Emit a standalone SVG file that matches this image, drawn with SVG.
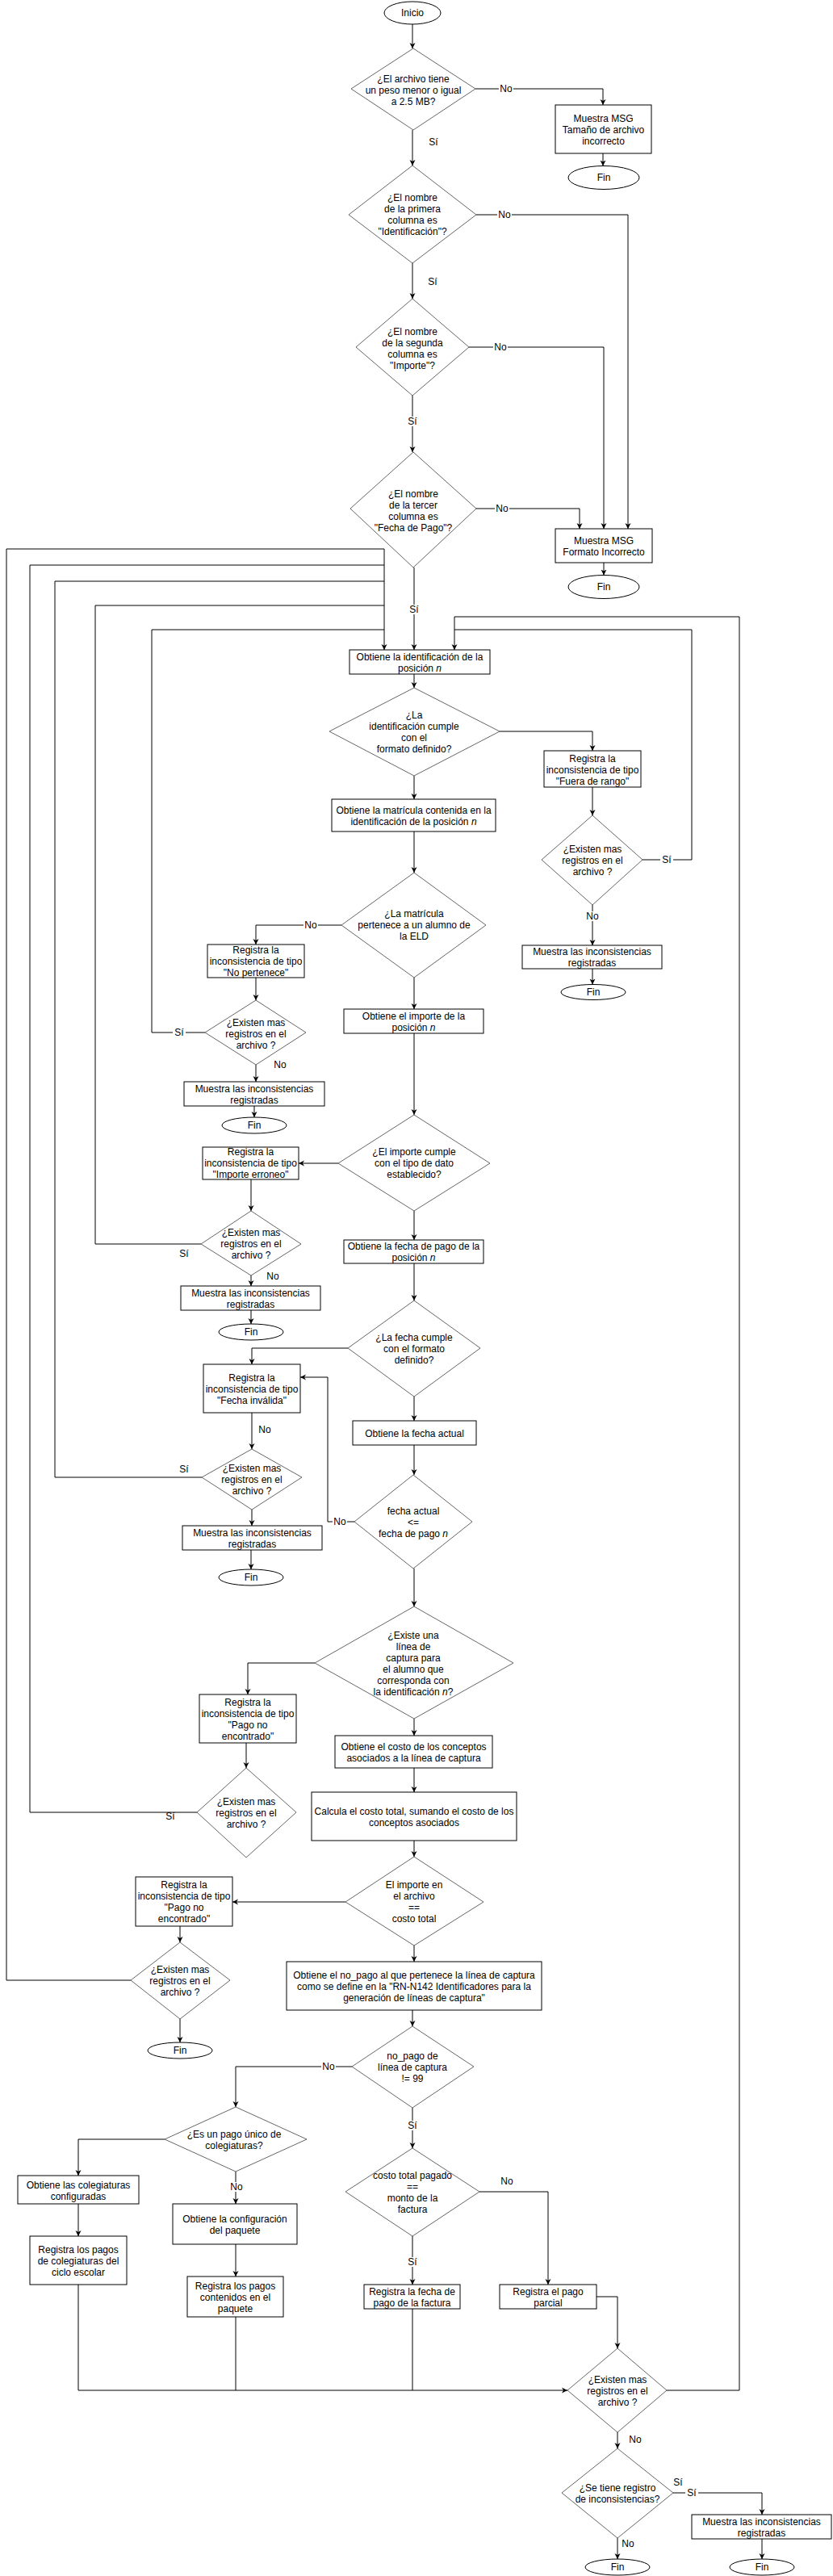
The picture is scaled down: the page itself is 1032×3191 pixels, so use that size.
<svg xmlns="http://www.w3.org/2000/svg" width="1032" height="3191" viewBox="0 0 1032 3191">
<style>
.t{font-family:"Liberation Sans",Arial,sans-serif;font-size:12px;text-anchor:middle;fill:#000}
.b{fill:#fff;stroke:#000;stroke-width:1}
.d{fill:#fff;stroke:#666;stroke-width:1}
.e{fill:#fff;stroke:#000;stroke-width:1}
.c path{fill:none;stroke:#000;stroke-width:1}
.a{marker-end:url(#ar)}
.lb{fill:#fff}
.i{font-style:italic}
</style>
<defs>
<marker id="ar" viewBox="0 0 10 10" refX="10" refY="5" markerWidth="7" markerHeight="8" markerUnits="userSpaceOnUse" orient="auto">
<path d="M0,0 L10,5 L0,10 L3,5 Z" fill="#000"/>
</marker>
</defs>
<rect width="1032" height="3191" fill="#fff"/>
<g class="c" id="connectors">
<path class="a" d="M511,30 V60"/>
<path class="a" d="M589,110 H747 V130"/>
<path class="a" d="M747,190 V205.5"/>
<path class="a" d="M511,161 V205"/>
<path class="a" d="M590,266 H778 V655"/>
<path class="a" d="M511,326 V370"/>
<path class="a" d="M581,430 H748 V655"/>
<path class="a" d="M511,490 V560"/>
<path class="a" d="M590,630 H718 V655"/>
<path class="a" d="M748,697 V712.5"/>
<path class="a" d="M513,703 V805"/>
<path d="M162,2453 H8 V680 H476"/>
<path d="M244,2245 H37 V700 H476"/>
<path d="M250,1830 H68 V720 H476"/>
<path d="M249,1541 H118 V750 H476"/>
<path d="M254,1279 H188 V780 H476"/>
<path class="a" d="M476,680 V805"/>
<path d="M826,2961 H916 V764 H563"/>
<path d="M796,1065 H857 V780 H563"/>
<path class="a" d="M563,764 V805"/>
<path class="a" d="M513,835 V852"/>
<path class="a" d="M619,906 H734 V930"/>
<path class="a" d="M734,975 V1010"/>
<path class="a" d="M734,1121 V1171"/>
<path class="a" d="M734,1200 V1219.5"/>
<path class="a" d="M513,961 V990"/>
<path class="a" d="M513,1030 V1081"/>
<path class="a" d="M423,1146 H317 V1170"/>
<path class="a" d="M317,1211 V1239"/>
<path class="a" d="M317,1319 V1340"/>
<path class="a" d="M315,1370 V1384"/>
<path class="a" d="M513,1211 V1250"/>
<path class="a" d="M513,1280 V1381"/>
<path class="a" d="M419,1441 H370"/>
<path class="a" d="M311,1461 V1500"/>
<path class="a" d="M311,1580 V1593"/>
<path class="a" d="M311,1623 V1640"/>
<path class="a" d="M513,1500 V1536"/>
<path class="a" d="M513,1565 V1611"/>
<path class="a" d="M431,1670 H312 V1690"/>
<path class="a" d="M312,1750 V1795"/>
<path class="a" d="M312,1870 V1890"/>
<path class="a" d="M311,1920 V1944"/>
<path class="a" d="M513,1730 V1760"/>
<path class="a" d="M513,1790 V1827"/>
<path class="a" d="M439,1885 H406 V1706 H372"/>
<path class="a" d="M513,1943 V1990"/>
<path class="a" d="M390,2060 H307 V2099"/>
<path class="a" d="M305,2159 V2190"/>
<path class="a" d="M513,2129 V2150"/>
<path class="a" d="M513,2190 V2220"/>
<path class="a" d="M513,2280 V2300"/>
<path class="a" d="M428,2356 H288"/>
<path class="a" d="M223,2386 V2406"/>
<path class="a" d="M223,2501 V2530"/>
<path class="a" d="M513,2410 V2430"/>
<path class="a" d="M511,2490 V2510"/>
<path class="a" d="M436,2560 H292 V2610"/>
<path class="a" d="M204,2650 H97 V2695"/>
<path class="a" d="M97,2730 V2770"/>
<path class="a" d="M292,2690 V2730"/>
<path class="a" d="M292,2780 V2820"/>
<path class="a" d="M511,2611 V2661"/>
<path class="a" d="M594,2715 H679 V2830"/>
<path class="a" d="M511,2770 V2830"/>
<path class="a" d="M739,2845 H765 V2909"/>
<path class="a" d="M97,2830 V2961 H703"/>
<path d="M292,2870 V2961"/>
<path d="M511,2860 V2961"/>
<path class="a" d="M765,3013 V3033"/>
<path class="a" d="M834,3088 H944 V3115"/>
<path class="a" d="M944,3145 V3170"/>
<path class="a" d="M765,3144 V3170"/>
</g>
<g id="labels">
<rect class="lb" x="618" y="104" width="18" height="12"/><text class="t" x="627" y="114">No</text>
<text class="t" x="537" y="180">Sí</text>
<rect class="lb" x="616" y="260" width="18" height="12"/><text class="t" x="625" y="270">No</text>
<text class="t" x="536" y="353">Sí</text>
<rect class="lb" x="611" y="424" width="18" height="12"/><text class="t" x="620" y="434">No</text>
<rect class="lb" x="503" y="516" width="16" height="12"/><text class="t" x="511" y="526">Sí</text>
<rect class="lb" x="613" y="624" width="18" height="12"/><text class="t" x="622" y="634">No</text>
<rect class="lb" x="505" y="749" width="16" height="12"/><text class="t" x="513" y="759">Sí</text>
<rect class="lb" x="818" y="1059" width="16" height="12"/><text class="t" x="826" y="1069">Sí</text>
<rect class="lb" x="725" y="1129" width="18" height="12"/><text class="t" x="734" y="1139">No</text>
<rect class="lb" x="376" y="1140" width="18" height="12"/><text class="t" x="385" y="1150">No</text>
<rect class="lb" x="214" y="1273" width="16" height="12"/><text class="t" x="222" y="1283">Sí</text>
<text class="t" x="347" y="1323">No</text>
<text class="t" x="228" y="1557">Sí</text>
<text class="t" x="338" y="1585">No</text>
<text class="t" x="328" y="1775">No</text>
<text class="t" x="228" y="1824">Sí</text>
<rect class="lb" x="412" y="1879" width="18" height="12"/><text class="t" x="421" y="1889">No</text>
<text class="t" x="211" y="2254">Sí</text>
<rect class="lb" x="398" y="2554" width="18" height="12"/><text class="t" x="407" y="2564">No</text>
<rect class="lb" x="503" y="2627" width="16" height="12"/><text class="t" x="511" y="2637">Sí</text>
<rect class="lb" x="284" y="2703" width="18" height="12"/><text class="t" x="293" y="2713">No</text>
<text class="t" x="628" y="2706">No</text>
<rect class="lb" x="503" y="2796" width="16" height="12"/><text class="t" x="511" y="2806">Sí</text>
<text class="t" x="787" y="3026">No</text>
<text class="t" x="840" y="3079">Sí</text>
<rect class="lb" x="849" y="3082" width="16" height="12"/><text class="t" x="857" y="3092">Sí</text>
<text class="t" x="778" y="3155">No</text>
</g>
<g id="n_inicio"><ellipse class="e" cx="511" cy="16" rx="35" ry="14"/><text class="t" x="511" y="20">Inicio</text></g>
<g id="d1"><polygon class="d" points="512,60 589,110 512,161 435,110"/><text class="t"><tspan x="512" y="102">¿El archivo  tiene</tspan><tspan x="512" y="116">un peso menor o igual</tspan><tspan x="512" y="130">a 2.5 MB?</tspan></text></g>
<g id="b_tam"><rect class="b" x="688" y="130" width="119" height="60"/><text class="t"><tspan x="747.5" y="151">Muestra MSG</tspan><tspan x="747.5" y="165">Tamaño de archivo</tspan><tspan x="747.5" y="179">incorrecto</tspan></text></g>
<g id="fin1"><ellipse class="e" cx="748" cy="220" rx="44" ry="14.5"/><text class="t" x="748" y="224">Fin</text></g>
<g id="d2"><polygon class="d" points="511,205 590,266 511,326 432,266"/><text class="t"><tspan x="511" y="249">¿El nombre</tspan><tspan x="511" y="263">de la primera</tspan><tspan x="511" y="277">columna es</tspan><tspan x="511" y="291">"Identificación"?</tspan></text></g>
<g id="d3"><polygon class="d" points="511,370 581,430 511,490 441,430"/><text class="t"><tspan x="511" y="415">¿El nombre</tspan><tspan x="511" y="429">de la segunda</tspan><tspan x="511" y="443">columna es</tspan><tspan x="511" y="457">"Importe"?</tspan></text></g>
<g id="d4"><polygon class="d" points="512,560 590,630 512,703 434,630"/><text class="t"><tspan x="512" y="616">¿El nombre</tspan><tspan x="512" y="630">de la tercer</tspan><tspan x="512" y="644">columna es</tspan><tspan x="512" y="658">"Fecha de Pago"?</tspan></text></g>
<g id="b_fmt"><rect class="b" x="688" y="655" width="120" height="42" stroke="#555" stroke-width="1.3"/><text class="t"><tspan x="748" y="674">Muestra  MSG</tspan><tspan x="748" y="688">Formato Incorrecto</tspan></text></g>
<g id="fin2"><ellipse class="e" cx="748" cy="727" rx="44" ry="14.5"/><text class="t" x="748" y="731">Fin</text></g>
<g id="b_id"><rect class="b" x="433" y="805" width="174" height="30"/><text class="t"><tspan x="520" y="818">Obtiene la identificación de la</tspan><tspan x="520" y="832">posición <tspan class="i">n</tspan></tspan></text></g>
<g id="d5"><polygon class="d" points="513,852 619,906 513,961 408,906"/><text class="t"><tspan x="513" y="890">¿La</tspan><tspan x="513" y="904">identificación cumple</tspan><tspan x="513" y="918">con el</tspan><tspan x="513" y="932">formato definido?</tspan></text></g>
<g id="b_fr"><rect class="b" x="674" y="930" width="120" height="45"/><text class="t"><tspan x="734" y="944">Registra la</tspan><tspan x="734" y="958">inconsistencia de tipo</tspan><tspan x="734" y="972">"Fuera de rango"</tspan></text></g>
<g id="d6"><polygon class="d" points="734,1010 796,1065 734,1121 671,1065"/><text class="t"><tspan x="734" y="1056">¿Existen mas</tspan><tspan x="734" y="1070">registros en el</tspan><tspan x="734" y="1084">archivo ?</tspan></text></g>
<g id="b_mi1"><rect class="b" x="647" y="1171" width="173" height="29"/><text class="t"><tspan x="733.5" y="1183">Muestra las inconsistencias</tspan><tspan x="733.5" y="1197">registradas</tspan></text></g>
<g id="fin3"><ellipse class="e" cx="735" cy="1229" rx="40" ry="9.5"/><text class="t" x="735" y="1233">Fin</text></g>
<g id="b_mat"><rect class="b" x="411" y="990" width="203" height="40"/><text class="t"><tspan x="512.5" y="1008">Obtiene la matrícula contenida en la</tspan><tspan x="512.5" y="1022">identificación de la posición <tspan class="i">n</tspan></tspan></text></g>
<g id="d7"><polygon class="d" points="513,1081 602,1146 513,1211 423,1146"/><text class="t"><tspan x="513" y="1136">¿La matrícula</tspan><tspan x="513" y="1150">pertenece a un alumno de</tspan><tspan x="513" y="1164">la ELD</tspan></text></g>
<g id="b_np"><rect class="b" x="257" y="1170" width="120" height="41"/><text class="t"><tspan x="317" y="1181">Registra la</tspan><tspan x="317" y="1195">inconsistencia de tipo</tspan><tspan x="317" y="1209">"No pertenece"</tspan></text></g>
<g id="d8"><polygon class="d" points="317,1239 379,1279 317,1319 254,1279"/><text class="t"><tspan x="317" y="1271">¿Existen mas</tspan><tspan x="317" y="1285">registros en el</tspan><tspan x="317" y="1299">archivo ?</tspan></text></g>
<g id="b_mi2"><rect class="b" x="228" y="1340" width="174" height="30"/><text class="t"><tspan x="315" y="1353">Muestra las inconsistencias</tspan><tspan x="315" y="1367">registradas</tspan></text></g>
<g id="fin4"><ellipse class="e" cx="315" cy="1394" rx="40" ry="10"/><text class="t" x="315" y="1398">Fin</text></g>
<g id="b_imp"><rect class="b" x="426" y="1250" width="173" height="30"/><text class="t"><tspan x="512.5" y="1263">Obtiene el importe de la</tspan><tspan x="512.5" y="1277">posición <tspan class="i">n</tspan></tspan></text></g>
<g id="d9"><polygon class="d" points="513,1381 607,1441 513,1500 419,1441"/><text class="t"><tspan x="513" y="1431">¿El importe cumple</tspan><tspan x="513" y="1445">con el tipo de dato</tspan><tspan x="513" y="1459">establecido?</tspan></text></g>
<g id="b_ie"><rect class="b" x="251" y="1421" width="119" height="40"/><text class="t"><tspan x="310.5" y="1431">Registra la</tspan><tspan x="310.5" y="1445">inconsistencia de tipo</tspan><tspan x="310.5" y="1459">"Importe erroneo"</tspan></text></g>
<g id="d10"><polygon class="d" points="311,1500 373,1541 311,1580 249,1541"/><text class="t"><tspan x="311" y="1531">¿Existen mas</tspan><tspan x="311" y="1545">registros en el</tspan><tspan x="311" y="1559">archivo ?</tspan></text></g>
<g id="b_mi3"><rect class="b" x="224" y="1593" width="173" height="30"/><text class="t"><tspan x="310.5" y="1606">Muestra las inconsistencias</tspan><tspan x="310.5" y="1620">registradas</tspan></text></g>
<g id="fin5"><ellipse class="e" cx="311" cy="1650" rx="40" ry="10"/><text class="t" x="311" y="1654">Fin</text></g>
<g id="b_fp"><rect class="b" x="426" y="1536" width="173" height="29"/><text class="t"><tspan x="512.5" y="1548">Obtiene la fecha de pago de la</tspan><tspan x="512.5" y="1562">posición <tspan class="i">n</tspan></tspan></text></g>
<g id="d11"><polygon class="d" points="513,1611 595,1670 513,1730 431,1670"/><text class="t"><tspan x="513" y="1661">¿La fecha cumple</tspan><tspan x="513" y="1675">con el formato</tspan><tspan x="513" y="1689">definido?</tspan></text></g>
<g id="b_fi"><rect class="b" x="252" y="1690" width="120" height="60"/><text class="t"><tspan x="312" y="1711">Registra la</tspan><tspan x="312" y="1725">inconsistencia de tipo</tspan><tspan x="312" y="1739">"Fecha inválida"</tspan></text></g>
<g id="d13"><polygon class="d" points="312,1795 374,1830 312,1870 250,1830"/><text class="t"><tspan x="312" y="1823">¿Existen mas</tspan><tspan x="312" y="1837">registros en el</tspan><tspan x="312" y="1851">archivo ?</tspan></text></g>
<g id="b_mi4"><rect class="b" x="226" y="1890" width="173" height="30"/><text class="t"><tspan x="312.5" y="1903">Muestra las inconsistencias</tspan><tspan x="312.5" y="1917">registradas</tspan></text></g>
<g id="fin6"><ellipse class="e" cx="311" cy="1954" rx="40" ry="10"/><text class="t" x="311" y="1958">Fin</text></g>
<g id="b_fa"><rect class="b" x="437" y="1760" width="153" height="30"/><text class="t" x="513.5" y="1780">Obtiene la fecha actual</text></g>
<g id="d12"><polygon class="d" points="512,1827 585,1885 512,1943 439,1885"/><text class="t"><tspan x="512" y="1876">fecha actual</tspan><tspan x="512" y="1890">&lt;=</tspan><tspan x="512" y="1904">fecha de pago <tspan class="i">n</tspan></tspan></text></g>
<g id="d14"><polygon class="d" points="513,1990 636,2060 513,2129 390,2060"/><text class="t"><tspan x="512" y="2030">¿Existe una</tspan><tspan x="512" y="2044">línea de</tspan><tspan x="512" y="2058">captura para</tspan><tspan x="512" y="2072">el alumno que</tspan><tspan x="512" y="2086">corresponda con</tspan><tspan x="512" y="2100">la identificación <tspan class="i">n</tspan>?</tspan></text></g>
<g id="b_pn1"><rect class="b" x="247" y="2099" width="120" height="60"/><text class="t"><tspan x="307" y="2113">Registra la</tspan><tspan x="307" y="2127">inconsistencia de tipo</tspan><tspan x="307" y="2141">"Pago no</tspan><tspan x="307" y="2155">encontrado"</tspan></text></g>
<g id="d15"><polygon class="d" points="305,2190 367,2245 305,2301 244,2245"/><text class="t"><tspan x="305" y="2236">¿Existen mas</tspan><tspan x="305" y="2250">registros en el</tspan><tspan x="305" y="2264">archivo ?</tspan></text></g>
<g id="b_costo"><rect class="b" x="415" y="2150" width="195" height="40"/><text class="t"><tspan x="512.5" y="2168">Obtiene el costo de los conceptos</tspan><tspan x="512.5" y="2182">asociados a la línea de captura</tspan></text></g>
<g id="b_calc"><rect class="b" x="386" y="2220" width="254" height="60"/><text class="t"><tspan x="513" y="2248">Calcula el costo total, sumando el costo de los</tspan><tspan x="513" y="2262">conceptos asociados</tspan></text></g>
<g id="d16"><polygon class="d" points="513,2300 599,2356 513,2410 428,2356"/><text class="t"><tspan x="513" y="2339">El  importe en</tspan><tspan x="513" y="2353">el archivo</tspan><tspan x="513" y="2367">==</tspan><tspan x="513" y="2381">costo total</tspan></text></g>
<g id="b_pn2"><rect class="b" x="168" y="2325" width="120" height="61"/><text class="t"><tspan x="228" y="2339">Registra la</tspan><tspan x="228" y="2353">inconsistencia de tipo</tspan><tspan x="228" y="2367">"Pago no</tspan><tspan x="228" y="2381">encontrado"</tspan></text></g>
<g id="d17"><polygon class="d" points="223,2406 285,2453 223,2501 162,2453"/><text class="t"><tspan x="223" y="2444">¿Existen mas</tspan><tspan x="223" y="2458">registros en el</tspan><tspan x="223" y="2472">archivo ?</tspan></text></g>
<g id="fin7"><ellipse class="e" cx="223" cy="2540" rx="40" ry="10"/><text class="t" x="223" y="2544">Fin</text></g>
<g id="b_nopago"><rect class="b" x="355" y="2430" width="316" height="60"/><text class="t"><tspan x="513" y="2451">Obtiene el no_pago al que pertenece la línea de captura</tspan><tspan x="513" y="2465">como se define en la "RN-N142 Identificadores para la</tspan><tspan x="513" y="2479">generación de líneas de captura"</tspan></text></g>
<g id="d18"><polygon class="d" points="511,2510 587,2560 511,2611 436,2560"/><text class="t"><tspan x="511" y="2551">no_pago de</tspan><tspan x="511" y="2565">línea de captura</tspan><tspan x="511" y="2579">!= 99</tspan></text></g>
<g id="d19"><polygon class="d" points="292,2610 380,2650 292,2690 204,2650"/><text class="t"><tspan x="290" y="2648">¿Es un pago único de</tspan><tspan x="290" y="2662">colegiaturas?</tspan></text></g>
<g id="b_col"><rect class="b" x="22" y="2695" width="150" height="35"/><text class="t"><tspan x="97" y="2711">Obtiene las colegiaturas</tspan><tspan x="97" y="2725">configuradas</tspan></text></g>
<g id="b_rpc"><rect class="b" x="37" y="2770" width="120" height="60"/><text class="t"><tspan x="97" y="2791">Registra los pagos</tspan><tspan x="97" y="2805">de colegiaturas del</tspan><tspan x="97" y="2819">ciclo escolar</tspan></text></g>
<g id="b_cfg"><rect class="b" x="214" y="2730" width="154" height="50"/><text class="t"><tspan x="291" y="2753">Obtiene la configuración</tspan><tspan x="291" y="2767">del paquete</tspan></text></g>
<g id="b_rpp"><rect class="b" x="232" y="2820" width="119" height="50"/><text class="t"><tspan x="291.5" y="2836">Registra los pagos</tspan><tspan x="291.5" y="2850">contenidos en el</tspan><tspan x="291.5" y="2864">paquete</tspan></text></g>
<g id="d20"><polygon class="d" points="511,2661 594,2715 511,2770 428,2715"/><text class="t"><tspan x="511" y="2699">costo total  pagado</tspan><tspan x="511" y="2713">==</tspan><tspan x="511" y="2727">monto de la</tspan><tspan x="511" y="2741">factura</tspan></text></g>
<g id="b_parc"><rect class="b" x="619" y="2830" width="120" height="30"/><text class="t"><tspan x="679" y="2843">Registra el pago</tspan><tspan x="679" y="2857">parcial</tspan></text></g>
<g id="b_rfp"><rect class="b" x="451" y="2830" width="119" height="30"/><text class="t"><tspan x="510.5" y="2843">Registra la fecha de</tspan><tspan x="510.5" y="2857">pago de la factura</tspan></text></g>
<g id="d21"><polygon class="d" points="765,2909 826,2961 765,3013 703,2961"/><text class="t"><tspan x="765" y="2952">¿Existen mas</tspan><tspan x="765" y="2966">registros en el</tspan><tspan x="765" y="2980">archivo ?</tspan></text></g>
<g id="d22"><polygon class="d" points="765,3033 834,3088 765,3144 696,3088"/><text class="t"><tspan x="765" y="3086">¿Se tiene registro</tspan><tspan x="765" y="3100">de inconsistencias?</tspan></text></g>
<g id="b_mi5"><rect class="b" x="857" y="3115" width="173" height="30"/><text class="t"><tspan x="943.5" y="3128">Muestra las inconsistencias</tspan><tspan x="943.5" y="3142">registradas</tspan></text></g>
<g id="fin8"><ellipse class="e" cx="944" cy="3180" rx="40" ry="10"/><text class="t" x="944" y="3184">Fin</text></g>
<g id="fin9"><ellipse class="e" cx="765" cy="3180" rx="40" ry="10"/><text class="t" x="765" y="3184">Fin</text></g>
</svg>
